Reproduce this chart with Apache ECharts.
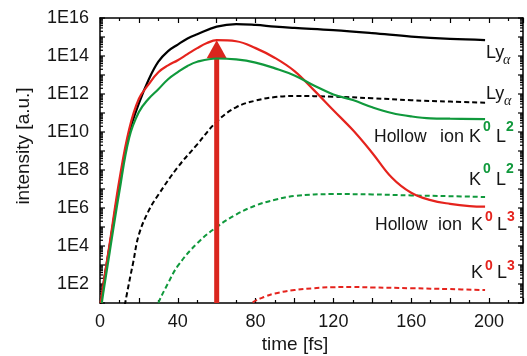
<!DOCTYPE html>
<html>
<head>
<meta charset="utf-8">
<script src="https://cdn.jsdelivr.net/npm/echarts@6/dist/echarts.min.js"></script>
<style>
  html, body { margin: 0; padding: 0; background: #fff; }
  #chart { width: 527px; height: 356px; }
</style>
</head>
<body>
<div id="chart"></div>
<script>
// ---- axis setup ----
const timeMin = 0;
const timeMax = 217.5;
const timeLabels = [0, 40, 80, 120, 160, 200];
const intensityMin = 1e1;
const intensityMax = 1e16;
const decadeTicks = [1e1, 1e2, 1e3, 1e4, 1e5, 1e6, 1e7, 1e8, 1e9, 1e10, 1e11, 1e12, 1e13, 1e14, 1e15, 1e16];
const intensityLabelValues = [1e2, 1e4, 1e6, 1e8, 1e10, 1e12, 1e14, 1e16];
const intensityLabels = ['1E2', '1E4', '1E6', '1E8', '1E10', '1E12', '1E14', '1E16'];
const minorMultipliers = [2, 3, 4, 5, 6, 7, 8, 9];

// ---- Ly-alpha, solid ----
const lyaSolidTime = [0.5, 2, 5, 10, 15, 20, 25, 30, 35, 40, 45, 50, 60, 70, 80, 90, 100, 120, 140, 160, 180, 198];
const lyaSolidValue = [8, 1.4e2, 1.1e4, 1.8e7, 8.9e9, 3.2e11, 5.6e12, 5.0e13, 1.8e14, 4.0e14, 8.3e14, 1.4e15, 3.5e15, 4.8e15, 4.3e15, 3.5e15, 3.0e15, 2.3e15, 1.6e15, 1.05e15, 7.9e14, 6.9e14];

// ---- Ly-alpha, dashed ----
const lyaDashedTime = [12, 15, 17, 20, 25, 30, 40, 50, 60, 70, 80, 90, 100, 120, 140, 160, 180, 198];
const lyaDashedValue = [3, 1.26e2, 1.26e3, 4.0e4, 7.1e5, 5.0e6, 1.41e8, 2.24e9, 3.5e10, 2.0e11, 4.5e11, 6.9e11, 7.9e11, 7.2e11, 6.0e11, 4.7e11, 4.0e11, 3.5e11];

// ---- hollow ion K0 L2, solid ----
const k0l2SolidTime = [0.9, 2, 5, 10, 15, 20, 25, 30, 35, 40, 45, 50, 60, 70, 80, 90, 100, 110, 120, 130, 140, 150, 160, 170, 180, 198];
const k0l2SolidValue = [10, 56, 5.0e3, 7.9e6, 5.0e9, 1.12e11, 5.6e11, 1.78e12, 6.0e12, 1.41e13, 3.0e13, 5.0e13, 7.4e13, 6.6e13, 4.5e13, 2.24e13, 9.5e12, 2.8e12, 9.5e11, 4.8e11, 2.0e11, 1.0e11, 6.6e10, 5.2e10, 5.0e10, 4.8e10];

// ---- K0 L2, dashed ----
const k0l2DashedTime = [29, 30, 35, 40, 50, 60, 70, 80, 90, 100, 120, 140, 160, 180, 198];
const k0l2DashedValue = [4, 10, 1.1e2, 8.9e2, 1.4e4, 1.0e5, 4.5e5, 1.35e6, 2.7e6, 4.3e6, 5.4e6, 5.2e6, 4.6e6, 4.2e6, 3.8e6];

// ---- hollow ion K0 L3, solid ----
const k0l3SolidTime = [0.3, 2, 5, 10, 15, 20, 25, 30, 35, 40, 45, 50, 55, 60, 70, 80, 90, 100, 110, 120, 130, 140, 150, 160, 170, 180, 190, 198];
const k0l3SolidValue = [10, 1.4e2, 1.4e4, 3.2e7, 1.4e10, 5.6e11, 3.2e12, 1.4e13, 3.2e13, 6.0e13, 1.26e14, 2.6e14, 4.8e14, 6.8e14, 6.0e14, 2.6e14, 7.9e13, 1.6e13, 1.6e12, 1.4e11, 1.26e10, 7.9e8, 4.0e7, 6.3e6, 2.6e6, 1.66e6, 1.26e6, 1.17e6];

// ---- K0 L3, dashed ----
const k0l3DashedTime = [76, 78, 85, 90, 100, 110, 120, 130, 140, 160, 180, 198];
const k0l3DashedValue = [5, 10, 22, 32, 48, 60, 68, 69, 66, 60, 54, 48];

// ---- pump arrow ----
const arrowTime = 60;
const arrowTip = 6.8e14;

const BLACK = '#000000';
const RED = '#e5231d';
const GREEN = '#10993c';
const ARROW = '#da261e';
const TEXT = '#161616';
const FONT = "'Liberation Sans', Arial, Helvetica, sans-serif";

const zip = (t, v) => t.map((x, i) => [x, v[i]]);

function curve(name, t, v, color, dashed, z) {
  return {
    name, type: 'line', data: zip(t, v), showSymbol: false,
    smooth: 0.4, clip: true,
    z, silent: true, animation: false,
    lineStyle: { color, width: dashed ? 2 : 2.2, type: dashed ? [5, 3] : 'solid', cap: 'butt' }
  };
}

const frameLine = { show: true, onZero: false, lineStyle: { color: BLACK, width: 1.5 } };

function xAxisDef(pos, labels) {
  return {
    type: 'value', position: pos, min: timeMin, max: timeMax, interval: 20,
    axisLine: frameLine,
    axisTick: { show: true, inside: true, length: 5, lineStyle: { color: BLACK, width: 1.2 } },
    minorTick: { show: true, splitNumber: 2, length: 3, lineStyle: { color: BLACK, width: 1.2 } },
    splitLine: { show: false },
    axisLabel: {
      show: labels, color: TEXT, fontFamily: FONT, fontSize: 18, margin: 10,
      formatter: v => (timeLabels.indexOf(v) >= 0 ? String(v) : '')
    }
  };
}

function yAxisDef(pos) {
  return {
    type: 'log', logBase: 10, position: pos, min: intensityMin, max: intensityMax,
    axisLine: frameLine,
    axisTick: { show: false },
    axisLabel: { show: false },
    splitLine: { show: false }
  };
}

// decade ticks, log minor ticks and intensity labels, placed through the log scale
const intensityAxisSeries = {
  type: 'custom', xAxisIndex: 0, yAxisIndex: 0, data: [[timeMin, intensityMin]],
  silent: true, z: 1, clip: false,
  renderItem(params, api) {
    const cs = params.coordSys;
    const left = cs.x, right = cs.x + cs.width;
    const children = [];
    const tick = (y, len) => {
      children.push({ type: 'line', shape: { x1: left, y1: y, x2: left + len, y2: y }, style: { stroke: BLACK, lineWidth: 1.2 } });
      children.push({ type: 'line', shape: { x1: right, y1: y, x2: right - len, y2: y }, style: { stroke: BLACK, lineWidth: 1.2 } });
    };
    decadeTicks.forEach((d, i) => {
      tick(api.coord([timeMin, d])[1], 5);
      if (i < decadeTicks.length - 1) {
        minorMultipliers.forEach(m => tick(api.coord([timeMin, m * d])[1], 3));
      }
    });
    intensityLabelValues.forEach((v, i) => {
      const y = api.coord([timeMin, v])[1];
      children.push({
        type: 'text', x: left - 11, y,
        style: { text: intensityLabels[i], fill: TEXT, font: '18px ' + FONT, align: 'right', verticalAlign: 'middle' }
      });
    });
    return { type: 'group', children };
  }
};

const arrowSeries = {
  type: 'custom', xAxisIndex: 0, yAxisIndex: 0, data: [[arrowTime, arrowTip]],
  silent: true, z: 3,
  renderItem(params, api) {
    const cs = params.coordSys;
    const tip = api.coord([api.value(0), api.value(1)]);
    const headH = 18, headW = 20, shaftW = 5;
    const bottom = cs.y + cs.height;
    return {
      type: 'group', children: [
        { type: 'rect', shape: { x: tip[0] - shaftW / 2, y: tip[1] + headH - 1, width: shaftW, height: bottom - tip[1] - headH + 1 }, style: { fill: ARROW } },
        { type: 'polygon', shape: { points: [[tip[0], tip[1]], [tip[0] - headW / 2, tip[1] + headH], [tip[0] + headW / 2, tip[1] + headH]] }, style: { fill: ARROW } }
      ]
    };
  }
};

// text helpers for the curve annotations
function txt(s, x, y, size, color, extra) {
  return {
    type: 'text', x, y, silent: true, z: 10,
    style: Object.assign({ text: s, fill: color, font: size + 'px ' + FONT, align: 'left', verticalAlign: 'middle' }, extra || {})
  };
}
function sup(s, x, y, color) {
  return txt(s, x, y, 14, color, { font: 'bold 14px ' + FONT });
}
function alpha(x, y) {
  return txt('\u03b1', x, y, 14, TEXT, { font: "italic 14px 'Liberation Serif', 'Times New Roman', serif" });
}

const annotations = [
  txt('Ly', 486, 53.5, 18, TEXT), alpha(503, 60),
  txt('Ly', 486, 94, 18, TEXT), alpha(504, 101),
  txt('Hollow', 374, 137, 17.5, TEXT), txt('ion', 440, 137, 18, TEXT), txt('K', 469, 137, 18, TEXT),
  sup('0', 483, 127.5, GREEN), txt('L', 496, 137, 18, TEXT), sup('2', 506, 127.5, GREEN),
  txt('K', 469, 180, 18, TEXT), sup('0', 483, 169, GREEN), txt('L', 496, 180, 18, TEXT), sup('2', 506, 169, GREEN),
  txt('Hollow', 375, 225, 17.5, TEXT), txt('ion', 438, 225, 18, TEXT), txt('K', 471, 225, 18, TEXT),
  sup('0', 485, 217.5, RED), txt('L', 497, 225, 18, TEXT), sup('3', 507, 217.5, RED),
  txt('K', 471, 273.5, 18, TEXT), sup('0', 485, 266, RED), txt('L', 497, 273.5, 18, TEXT), sup('3', 507, 266, RED),
  // axis titles
  { type: 'text', x: 24, y: 146, rotation: Math.PI / 2, silent: true,
    style: { text: 'intensity [a.u.]', fill: TEXT, font: '19px ' + FONT, align: 'center', verticalAlign: 'middle' } },
  { type: 'text', x: 295, y: 345, silent: true,
    style: { text: 'time [fs]', fill: TEXT, font: '19px ' + FONT, align: 'center', verticalAlign: 'middle' } }
];

const chart = echarts.init(document.getElementById('chart'), null, { renderer: 'canvas' });
chart.setOption({
  animation: false,
  backgroundColor: '#ffffff',
  grid: { left: 100, right: 4, top: 18, bottom: 53, containLabel: false },
  xAxis: [xAxisDef('bottom', true), xAxisDef('top', false)],
  yAxis: [yAxisDef('left'), yAxisDef('right')],
  series: [
    intensityAxisSeries,
    curve('Ly-alpha dashed', lyaDashedTime, lyaDashedValue, BLACK, true, 2),
    curve('K0 L2 dashed', k0l2DashedTime, k0l2DashedValue, GREEN, true, 2),
    curve('K0 L3 dashed', k0l3DashedTime, k0l3DashedValue, RED, true, 2),
    arrowSeries,
    curve('Ly-alpha', lyaSolidTime, lyaSolidValue, BLACK, false, 4),
    curve('Hollow ion K0 L3', k0l3SolidTime, k0l3SolidValue, RED, false, 4),
    curve('Hollow ion K0 L2', k0l2SolidTime, k0l2SolidValue, GREEN, false, 4)
  ],
  graphic: annotations
});
</script>
</body>
</html>
